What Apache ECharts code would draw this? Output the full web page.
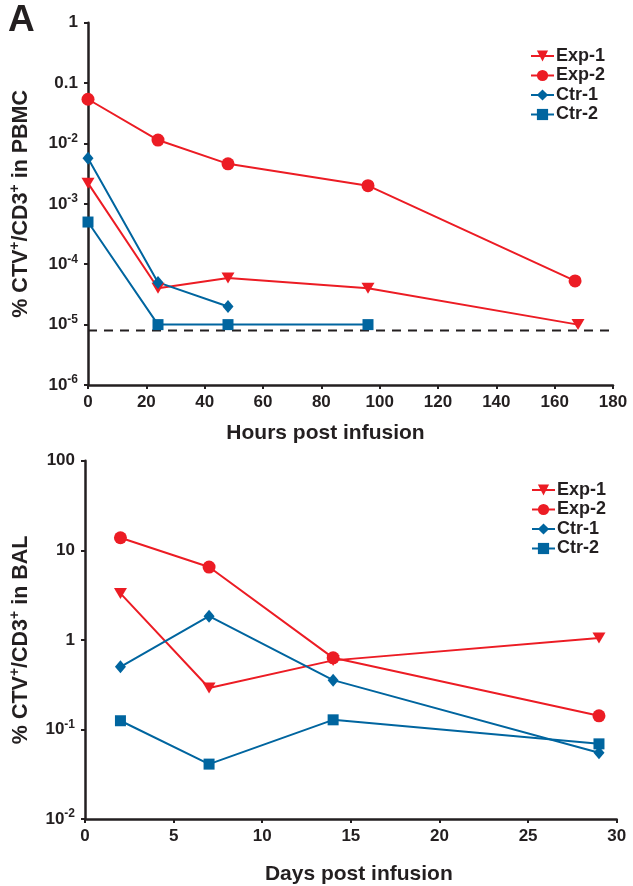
<!DOCTYPE html>
<html>
<head>
<meta charset="utf-8">
<script src="https://cdn.jsdelivr.net/npm/echarts@6/dist/echarts.min.js"></script>
<style>
html,body{margin:0;padding:0;background:#fff;}
#chart{width:633px;height:886px;}
</style>
</head>
<body>
<div id="chart"></div>
<script>
// ---------- Panel 1: PBMC (hours) ----------
const seriesNames = ['Exp-1', 'Exp-2', 'Ctr-1', 'Ctr-2'];

const pbmcExp1Hours = [0, 24, 48, 96, 168];
const pbmcExp1Values = [0.0022, 0.00004, 0.000059, 0.00004, 0.00001];

const pbmcExp2Hours = [0, 24, 48, 96, 167];
const pbmcExp2Values = [0.054, 0.0114, 0.0046, 0.002, 0.000053];

const pbmcCtr1Hours = [0, 24, 48];
const pbmcCtr1Values = [0.0057, 0.00005, 0.00002];

const pbmcCtr2Hours = [0, 24, 48, 96];
const pbmcCtr2Values = [0.0005, 0.00001, 0.00001, 0.00001];

// detection limit (dashed line) spanning the whole hours axis
const pbmcLimitHours = [0, 180];
const pbmcLimitValues = [0.000008, 0.000008];

const pbmcXTicks = [0, 20, 40, 60, 80, 100, 120, 140, 160, 180];
const pbmcYTicks = [1e-6, 1e-5, 1e-4, 1e-3, 1e-2, 0.1, 1];
const pbmcYTickLabels = ['10{sup|-6}', '10{sup|-5}', '10{sup|-4}', '10{sup|-3}', '10{sup|-2}', '0.1', '1'];

// ---------- Panel 2: BAL (days) ----------
const balDays = [2, 7, 14, 29];
const balExp1Values = [3.3, 0.29, 0.59, 1.05];
const balExp2Values = [13.8, 6.5, 0.63, 0.142];
const balCtr1Values = [0.5, 1.84, 0.355, 0.055];
const balCtr2Values = [0.125, 0.041, 0.128, 0.069];

const balXTicks = [0, 5, 10, 15, 20, 25, 30];
const balYTicks = [1e-2, 1e-1, 1, 10, 100];
const balYTickLabels = ['10{sup|-2}', '10{sup|-1}', '1', '10', '100'];

// ---------- styles ----------
const RED = '#EC1C24';
const BLUE = '#00659F';
const INK = '#231F20';
const FONT = '"Liberation Sans", Arial, Helvetica, sans-serif';

const symbols = {
  'Exp-1': { symbol: 'triangle', symbolRotate: 180, symbolSize: [13, 11], color: RED },
  'Exp-2': { symbol: 'circle', symbolRotate: 0, symbolSize: 13, color: RED },
  'Ctr-1': { symbol: 'diamond', symbolRotate: 0, symbolSize: [11, 13], color: BLUE },
  'Ctr-2': { symbol: 'rect', symbolRotate: 0, symbolSize: 11, color: BLUE }
};

function pairs(xs, ys) { return xs.map((x, i) => [x, ys[i]]); }

function makeLabelFormatter(ticks, labels) {
  return function (v) {
    for (let i = 0; i < ticks.length; i++) {
      if (Math.abs(Math.log10(v) - Math.log10(ticks[i])) < 1e-6) return labels[i];
    }
    return '';
  };
}

function lineSeries(name, data, xi, yi) {
  const s = symbols[name];
  return {
    name: name,
    type: 'line',
    xAxisIndex: xi,
    yAxisIndex: yi,
    data: data,
    symbol: s.symbol,
    symbolRotate: s.symbolRotate,
    symbolSize: s.symbolSize,
    showAllSymbol: true,
    lineStyle: { color: s.color, width: 2 },
    itemStyle: { color: s.color, borderWidth: 0 },
    emphasis: { disabled: true },
    animation: false,
    z: 3
  };
}

const richSup = {
  sup: { fontSize: 12, fontWeight: 'bold', fontFamily: FONT, color: INK, verticalAlign: 'top', lineHeight: 12 }
};

function yAxis(gridIndex, min, max, split, ticks, labels, name, nameGap) {
  return {
    type: 'log',
    logBase: 10,
    gridIndex: gridIndex,
    min: min,
    max: max,
    splitNumber: split,
    axisLine: { show: true, lineStyle: { color: INK, width: 2.5 } },
    axisTick: { show: true, length: 4, inside: false, lineStyle: { color: INK, width: 2 } },
    splitLine: { show: false },
    minorTick: { show: false },
    axisLabel: {
      margin: 10,
      color: INK,
      fontSize: 17,
      fontWeight: 'bold',
      fontFamily: FONT,
      lineHeight: 22,
      formatter: makeLabelFormatter(ticks, labels),
      rich: richSup
    },
    name: name,
    nameLocation: 'middle',
    nameGap: nameGap,
    nameTextStyle: {
      color: INK, fontSize: 21.5, fontWeight: 'bold', fontFamily: FONT, lineHeight: 26,
      rich: { sup: { fontSize: 14, fontWeight: 'bold', fontFamily: FONT, color: INK, verticalAlign: 'top', lineHeight: 14 } }
    }
  };
}

function xAxis(gridIndex, min, max, interval, name, nameGap, padding) {
  return {
    type: 'value',
    gridIndex: gridIndex,
    min: min,
    max: max,
    interval: interval,
    axisLine: { show: true, onZero: false, lineStyle: { color: INK, width: 2.5 } },
    axisTick: { show: true, length: 4, inside: false, lineStyle: { color: INK, width: 2 } },
    splitLine: { show: false },
    axisLabel: { margin: 9, color: INK, fontSize: 17, fontWeight: 'bold', fontFamily: FONT },
    name: name,
    nameLocation: 'middle',
    nameGap: nameGap,
    nameTextStyle: { color: INK, fontSize: 21, fontWeight: 'bold', fontFamily: FONT, padding: padding }
  };
}

function legend(left, top) {
  return {
    orient: 'vertical',
    left: left,
    top: top,
    padding: 0,
    itemWidth: 23,
    itemHeight: 14,
    itemGap: 0.5,
    data: seriesNames.map(n => ({ name: n })),
    textStyle: { color: INK, fontSize: 18, fontWeight: 'bold', fontFamily: FONT, lineHeight: 19, padding: [0, 0, 0, -3] },
    selectedMode: false
  };
}

const chart = echarts.init(document.getElementById('chart'), null, { renderer: 'canvas' });

const option = {
  backgroundColor: '#ffffff',
  animation: false,
  grid: [
    { left: 84, right: 20, top: 22.7, height: 362.3 },
    { left: 83.5, right: 16.3, top: 460.7, height: 361 }
  ],
  xAxis: [
    xAxis(0, 0, 180, 20, 'Hours post infusion', 38, [0, 50, 0, 0]),
    xAxis(1, 0, 30, 5, 'Days post infusion', 45, [0, 0, 0, 16])
  ],
  yAxis: [
    yAxis(0, 1e-6, 1, 6, pbmcYTicks, pbmcYTickLabels, '% CTV{sup|+}/CD3{sup|+} in PBMC', 54),
    yAxis(1, 1e-2, 100, 4, balYTicks, balYTickLabels, '% CTV{sup|+}/CD3{sup|+} in BAL', 51)
  ],
  legend: [legend(530, 46.5), legend(531, 480.5)],
  graphic: [
    {
      type: 'text', left: 8, top: 2,
      style: { text: 'A', fontSize: 37, fontWeight: 'bold', fontFamily: FONT, fill: INK }
    }
  ],
  series: [
    {
      name: 'limit',
      type: 'line',
      xAxisIndex: 0,
      yAxisIndex: 0,
      data: pairs(pbmcLimitHours, pbmcLimitValues),
      symbol: 'none',
      lineStyle: { color: INK, width: 2, type: [9, 7] },
      emphasis: { disabled: true },
      animation: false,
      silent: true,
      z: 2
    },
    lineSeries('Exp-1', pairs(pbmcExp1Hours, pbmcExp1Values), 0, 0),
    lineSeries('Exp-2', pairs(pbmcExp2Hours, pbmcExp2Values), 0, 0),
    lineSeries('Ctr-1', pairs(pbmcCtr1Hours, pbmcCtr1Values), 0, 0),
    lineSeries('Ctr-2', pairs(pbmcCtr2Hours, pbmcCtr2Values), 0, 0),
    lineSeries('Exp-1', pairs(balDays, balExp1Values), 1, 1),
    lineSeries('Exp-2', pairs(balDays, balExp2Values), 1, 1),
    lineSeries('Ctr-1', pairs(balDays, balCtr1Values), 1, 1),
    lineSeries('Ctr-2', pairs(balDays, balCtr2Values), 1, 1)
  ]
};

chart.setOption(option);
</script>
</body>
</html>
